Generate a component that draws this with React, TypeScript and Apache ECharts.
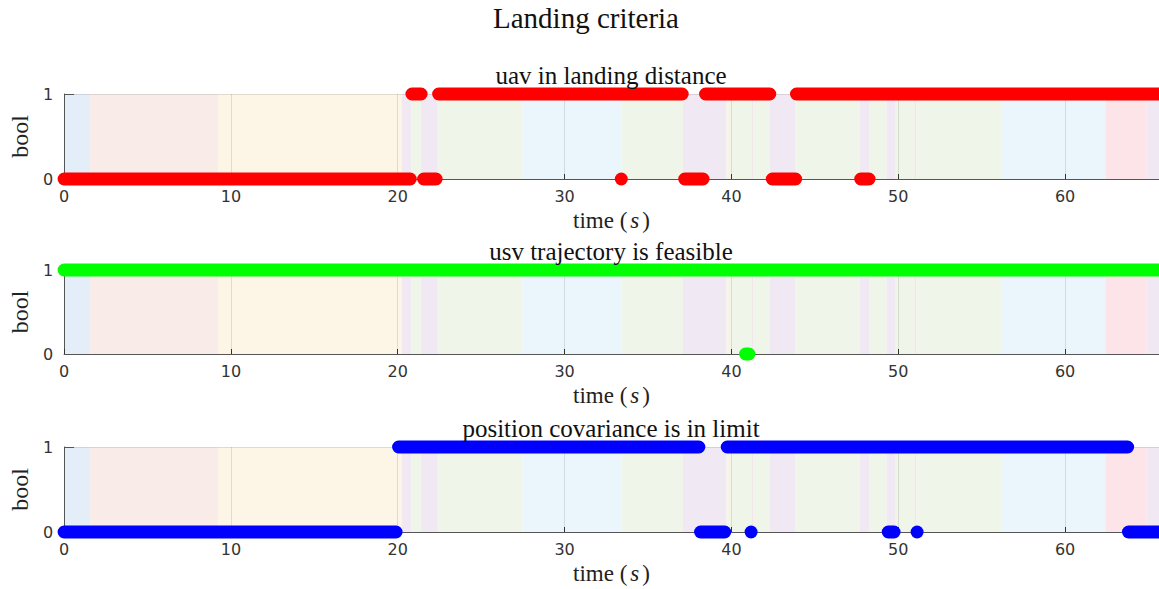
import React, { useEffect, useRef } from "react";
import * as echarts from "echarts";

// Phase background bands (time, s)
const bandStarts = [0, 1.56, 9.22, 20.24, 20.8, 21.4, 22.4, 27.47, 33.4, 37.1, 39.7, 40.0, 41.2, 41.3, 42.3, 43.85, 47.7, 48.25, 49.3, 49.85, 51.0, 51.1, 56.2, 62.45, 64.9];
const bandEnds = [1.56, 9.22, 20.24, 20.8, 21.4, 22.4, 27.47, 33.4, 37.1, 39.7, 40.0, 41.2, 41.3, 42.3, 43.85, 47.7, 48.25, 49.3, 49.85, 51.0, 51.1, 56.2, 62.45, 64.9, 66];
const bandPhase = ["blueA", "pink", "yellow", "purple", "green", "purple", "green", "blueB", "green", "purple", "beige", "green", "rose", "green", "purple", "green", "purple", "green", "purple", "green", "rose", "green", "blueB", "red", "purple"];
const phaseColors: Record<string, string> = {
  blueA: "#e3eef8",
  blueB: "#eaf5fc",
  pink: "#f9ece8",
  yellow: "#fdf6e6",
  purple: "#f0e8f2",
  green: "#f0f5ea",
  beige: "#f5f4e8",
  rose: "#f3e6ea",
  red: "#fde4e8",
};

// Signal segments: [start, end] where the boolean holds the given value
const uavOneStart = [20.85, 22.45, 38.45, 43.9];
const uavOneEnd = [21.4, 37.05, 42.3, 65.63];
const uavZeroStart = [0, 21.55, 33.4, 37.2, 42.45, 47.75];
const uavZeroEnd = [20.75, 22.3, 33.4, 38.3, 43.85, 48.25];

const usvOneStart = [0];
const usvOneEnd = [65.63];
const usvZeroStart = [40.85];
const usvZeroEnd = [41.05];

const posOneStart = [20.05, 39.75];
const posOneEnd = [38.05, 63.75];
const posZeroStart = [0, 38.15, 41.18, 49.4, 51.13, 63.8];
const posZeroEnd = [19.9, 39.6, 41.18, 49.75, 51.13, 65.63];

const xTicks = [0, 10, 20, 30, 40, 50, 60];
const yTicks = [0, 1];

const titles = ["uav in landing distance", "usv trajectory is feasible", "position covariance is in limit"];
const mainTitle = "Landing criteria";

const X_MAX = 65.63;
const GRID_TOPS = [94, 270, 447];
const GRID_H = [85, 84, 85];
const LEFT = 63;
const R = 6.5;

function segs(starts: number[], ends: number[], level: number) {
  return starts.map((s, i) => [s, ends[i], level]);
}

export default function App() {
  const ref = useRef<HTMLDivElement>(null);
  useEffect(() => {
    document.body.style.margin = "0";
    const chart = echarts.init(ref.current!, null, { renderer: "svg" });
    const signals = [
      { color: "#ff0000", data: [...segs(uavZeroStart, uavZeroEnd, 0), ...segs(uavOneStart, uavOneEnd, 1)] },
      { color: "#00ff00", data: [...segs(usvZeroStart, usvZeroEnd, 0), ...segs(usvOneStart, usvOneEnd, 1)] },
      { color: "#0000ff", data: [...segs(posZeroStart, posZeroEnd, 0), ...segs(posOneStart, posOneEnd, 1)] },
    ];
    const bands = bandStarts.map((s, i) => [s, bandEnds[i], 0, 1, i]);

    const grids = GRID_TOPS.map((t, i) => ({ left: LEFT, right: 0, top: t, height: GRID_H[i] }));
    const axisText = { color: "#333", fontFamily: "DejaVu Sans", fontSize: 16 };
    const xAxes = GRID_TOPS.map((_, i) => ({
      type: "value",
      gridIndex: i,
      min: 0,
      max: X_MAX,
      interval: 10,
      name: "{a|time (}{b|s}{a|)}",
      nameLocation: "middle",
      nameGap: 30,
      nameTextStyle: {
        rich: {
          a: { fontFamily: "Liberation Serif", fontSize: 23, color: "#222" },
          b: { fontFamily: "Liberation Serif", fontStyle: "italic", fontSize: 23, color: "#222", padding: [0, 3, 0, 3] },
        },
      },
      axisLine: { show: true, onZero: false, lineStyle: { color: "#555", width: 1 } },
      axisTick: { show: true, inside: true, length: 5, lineStyle: { color: "#333" } },
      axisLabel: { ...axisText, margin: 9, showMaxLabel: false, formatter: (v: number) => (xTicks.includes(v) ? String(v) : "") },
      splitLine: { show: true, lineStyle: { color: "rgba(40,40,40,0.13)", width: 1 } },
    }));
    const yAxes = GRID_TOPS.map((_, i) => ({
      type: "value",
      gridIndex: i,
      min: 0,
      max: 1,
      interval: 1,
      name: "bool",
      nameLocation: "middle",
      nameRotate: 90,
      nameGap: 32,
      nameTextStyle: { fontFamily: "Liberation Serif", fontSize: 24, color: "#222" },
      axisLine: { show: true, lineStyle: { color: "#555", width: 1 } },
      axisTick: { show: true, inside: true, length: 10, lineStyle: { color: "#555" } },
      axisLabel: { ...axisText, margin: 11, formatter: (v: number) => (yTicks.includes(v) ? String(v) : "") },
      splitLine: { show: true, lineStyle: { color: "rgba(40,40,40,0.13)", width: 1 } },
    }));

    const bandSeries = GRID_TOPS.map((_, i) => ({
      type: "custom",
      xAxisIndex: i,
      yAxisIndex: i,
      z: -1,
      silent: true,
      data: bands,
      encode: { x: [0, 1], y: [2, 3] },
      renderItem: (params: any, api: any) => {
        const a = api.coord([api.value(0), api.value(3)]);
        const b = api.coord([api.value(1), api.value(2)]);
        const phase = bandPhase[api.value(4)];
        return {
          type: "rect",
          shape: { x: a[0], y: a[1], width: b[0] - a[0], height: b[1] - a[1] },
          style: { fill: phaseColors[phase] },
        };
      },
    }));

    const signalSeries = signals.map((s, i) => ({
      type: "custom",
      xAxisIndex: i,
      yAxisIndex: i,
      z: 5,
      data: s.data,
      encode: { x: [0, 1], y: 2 },
      renderItem: (params: any, api: any) => {
        const a = api.coord([api.value(0), api.value(2)]);
        const b = api.coord([api.value(1), api.value(2)]);
        return {
          type: "rect",
          shape: { x: a[0] - R, y: a[1] - R, width: b[0] - a[0] + 2 * R, height: 2 * R, r: R },
          style: { fill: s.color },
        };
      },
    }));

    const graphics: any[] = [
      {
        type: "text",
        x: 586,
        y: 18,
        style: { text: mainTitle, fontFamily: "Liberation Serif", fontSize: 29, fill: "#111", textAlign: "center", textVerticalAlign: "middle" },
      },
      ...titles.map((t, i) => ({
        type: "text",
        x: 611,
        y: GRID_TOPS[i] - 19,
        z: 10,
        style: { text: t, fontFamily: "Liberation Serif", fontSize: 25, fill: "#111", textAlign: "center", textVerticalAlign: "middle" },
      })),
    ];

    chart.setOption({
      animation: false,
      backgroundColor: "#ffffff",
      grid: grids,
      xAxis: xAxes,
      yAxis: yAxes,
      series: [...bandSeries, ...signalSeries],
      graphic: graphics,
    });
    return () => chart.dispose();
  }, []);
  return <div ref={ref} style={{ width: 1159, height: 589 }} />;
}
